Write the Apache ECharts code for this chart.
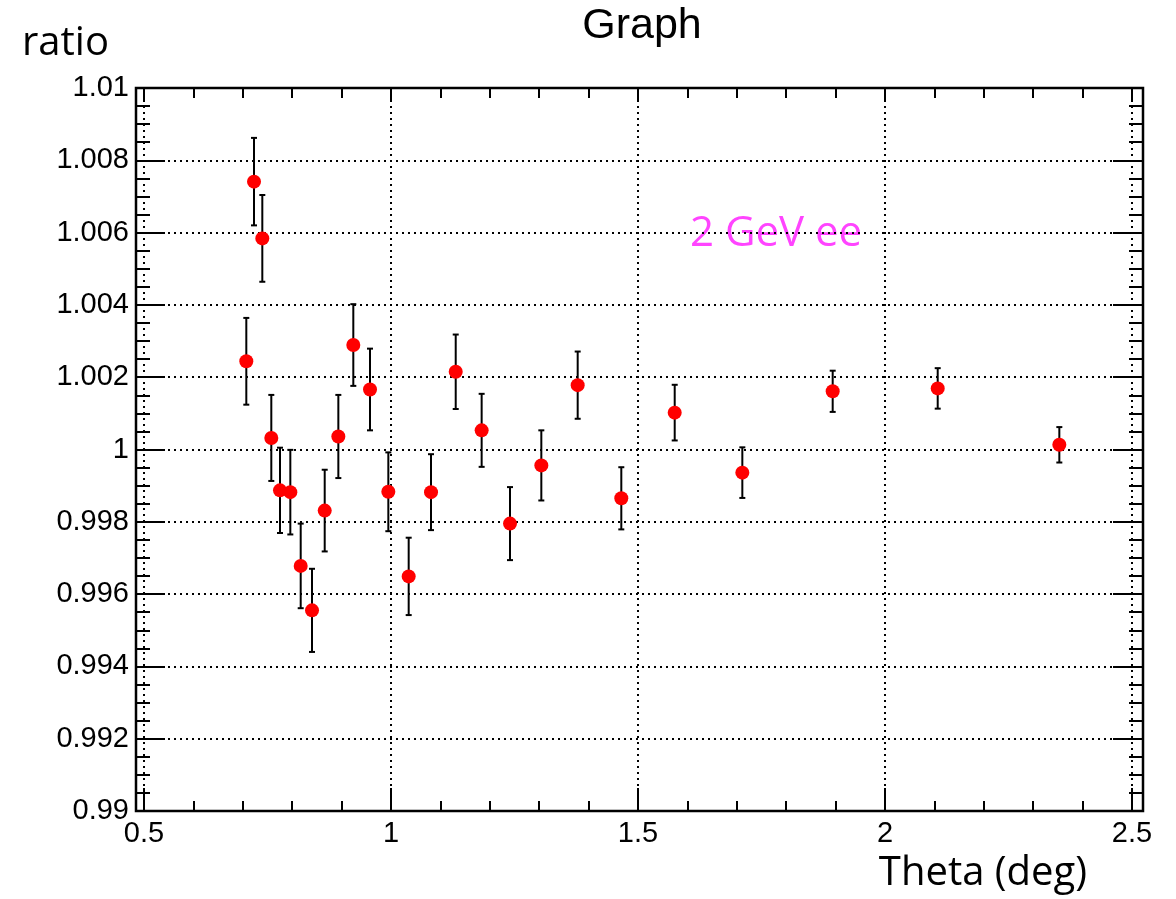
<!DOCTYPE html>
<html>
<head>
<meta charset="utf-8">
<script src="https://cdn.jsdelivr.net/npm/echarts@6/dist/echarts.min.js"></script>
<style>
  html, body { margin: 0; padding: 0; background: #fff; }
  #chart { width: 1176px; height: 899px; }
</style>
</head>
<body>
<div id="chart"></div>
<script>
// data
var thetaDeg = [0.7071, 0.7227, 0.7395, 0.7577, 0.7753, 0.7962, 0.8172, 0.8401, 0.8658,
  0.8934, 0.9237, 0.9575, 0.9946, 1.0358, 1.0810, 1.1310, 1.1835, 1.2409, 1.3043,
  1.3779, 1.4662, 1.5743, 1.7112, 1.8941, 2.1067, 2.3529];
var ratio = [1.00244, 1.00741, 1.00584, 1.00032, 0.99887, 0.99882, 0.99678, 0.99555, 0.99831,
  1.00036, 1.00289, 1.00166, 0.99883, 0.99649, 0.99882, 1.00215, 1.00053, 0.99795, 0.99956,
  1.00178, 0.99865, 1.00102, 0.99936, 1.00161, 1.00169, 1.00013];
var ratioErr = [0.00120, 0.00121, 0.00120, 0.00119, 0.00118, 0.00117, 0.00117, 0.00115, 0.00113,
  0.00115, 0.00113, 0.00113, 0.00109, 0.00107, 0.00105, 0.00103, 0.00101, 0.00101, 0.00097,
  0.00093, 0.00086, 0.00077, 0.00070, 0.00057, 0.00056, 0.00049];
var xTicks = [0.5, 2.5, 0.5];      // min, max, step
var yTicks = [0.99, 1.01, 0.002];  // min, max, step

var points = thetaDeg.map(function (x, i) { return [x, ratio[i], ratioErr[i]]; });

var sans = 'Liberation Sans, Arial, Helvetica, sans-serif';
var dotted = { color: '#000', width: 2, type: [2, 4] };

var chart = echarts.init(document.getElementById('chart'));

function errorBar(params, api) {
  var x = api.value(0), y = api.value(1), e = api.value(2);
  var hi = api.coord([x, y + e]);
  var lo = api.coord([x, y - e]);
  var st = { stroke: '#000', lineWidth: 2 };
  return {
    type: 'group',
    children: [
      { type: 'line', shape: { x1: hi[0], y1: hi[1], x2: lo[0], y2: lo[1] }, style: st },
      { type: 'line', shape: { x1: hi[0] - 3, y1: hi[1], x2: hi[0] + 3, y2: hi[1] }, style: st },
      { type: 'line', shape: { x1: lo[0] - 3, y1: lo[1], x2: lo[0] + 3, y2: lo[1] }, style: st }
    ]
  };
}

chart.setOption({
  animation: false,
  backgroundColor: '#fff',
  grid: { left: 144, right: 44, top: 88, bottom: 88 },
  xAxis: [{
    type: 'value', position: 'bottom',
    min: xTicks[0], max: xTicks[1], interval: xTicks[2],
    axisLine: { show: false },
    axisTick: { inside: true, length: 23, lineStyle: { color: '#000', width: 2 } },
    minorTick: { show: true, splitNumber: 5, length: 10, lineStyle: { color: '#000', width: 2 } },
    splitLine: { show: true, lineStyle: dotted },
    axisLabel: { fontFamily: sans, fontSize: 29, color: '#000', margin: 8 }
  }, {
    type: 'value', position: 'top',
    min: xTicks[0], max: xTicks[1], interval: xTicks[2],
    axisLine: { show: false },
    axisTick: { inside: true, length: 13, lineStyle: { color: '#000', width: 2 } },
    minorTick: { show: true, splitNumber: 5, length: 10, lineStyle: { color: '#000', width: 2 } },
    splitLine: { show: false },
    axisLabel: { show: false }
  }],
  yAxis: [{
    type: 'value', position: 'left', offset: 8,
    min: yTicks[0], max: yTicks[1], interval: yTicks[2],
    axisLine: { show: false },
    axisTick: { inside: true, length: 29, lineStyle: { color: '#000', width: 2 } },
    minorTick: { show: true, splitNumber: 4, length: 14, lineStyle: { color: '#000', width: 2 } },
    splitLine: { show: true, lineStyle: dotted },
    axisLabel: {
      fontFamily: sans, fontSize: 29, color: '#000', margin: 7,
      formatter: function (v) { return String(+v.toFixed(3)); }
    }
  }, {
    type: 'value', position: 'right', offset: 11,
    min: yTicks[0], max: yTicks[1], interval: yTicks[2],
    axisLine: { show: false },
    axisTick: { inside: true, length: 30, lineStyle: { color: '#000', width: 2 } },
    minorTick: { show: true, splitNumber: 4, length: 14, lineStyle: { color: '#000', width: 2 } },
    splitLine: { show: false },
    axisLabel: { show: false }
  }],
  series: [{
    type: 'custom',
    xAxisIndex: 0, yAxisIndex: 0,
    renderItem: errorBar,
    encode: { x: 0, y: 1 },
    data: points,
    z: 3
  }, {
    type: 'scatter',
    xAxisIndex: 0, yAxisIndex: 0,
    symbol: 'circle', symbolSize: 14,
    itemStyle: { color: '#ff0000', opacity: 1 },
    data: points.map(function (p) { return [p[0], p[1]]; }),
    z: 4
  }],
  graphic: [
    { type: 'rect', z: 10, shape: { x: 136, y: 88, width: 1007, height: 723 },
      style: { fill: 'none', stroke: '#000', lineWidth: 2.5 } },
    { type: 'text', x: 642, y: 26, style: { text: 'Graph', font: '43px ' + sans,
      fill: '#000', textAlign: 'center', textVerticalAlign: 'middle' } },
    { type: 'text', x: 22, y: 44, style: { text: 'ratio', font: '40px "Open Sans", "Noto Sans", sans-serif',
      fill: '#000', textAlign: 'left', textVerticalAlign: 'middle' } },
    { type: 'text', x: 1087, y: 874, style: { text: 'Theta (deg)', font: '40px "Open Sans", "Noto Sans", sans-serif',
      fill: '#000', textAlign: 'right', textVerticalAlign: 'middle' } },
    { type: 'text', x: 690, y: 234, style: { text: '2 GeV ee', font: '42px "Open Sans", "Noto Sans", sans-serif',
      fill: '#ff44ff', textAlign: 'left', textVerticalAlign: 'middle' } }
  ]
});
</script>
</body>
</html>
